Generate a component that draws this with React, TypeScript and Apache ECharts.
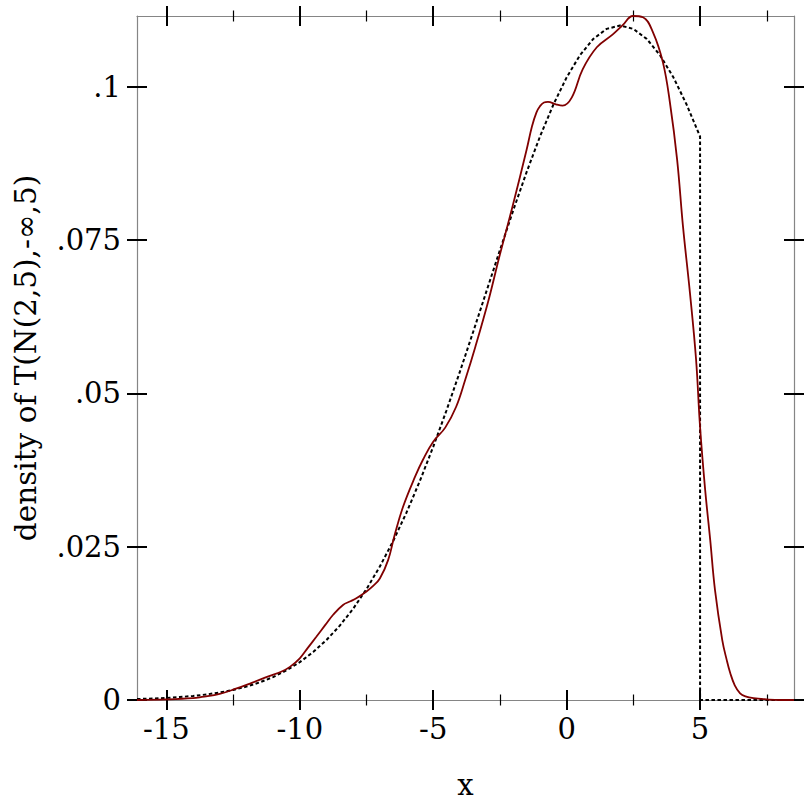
import React, { useEffect, useRef } from "react";
import * as echarts from "echarts";

const xMin = -16.1;
const xMax = 8.52;
const yMin = 0;
const yMax = 0.1115;

const xMajorTicks = [-15, -10, -5, 0, 5];
const xMinorTicks = [-12.5, -7.5, -2.5, 2.5, 7.5];
const yMajorTicks = [0, 0.025, 0.05, 0.075, 0.1];

const xTitle = "x";
const yTitle = "density of T(N(2,5),-∞,5)";

// dashed reference density: x, y
const refX = [-16.1, -15.5, -15, -14.5, -14, -13.5, -13, -12.5, -12, -11.5, -11, -10.5, -10, -9.5, -9, -8.5, -8, -7.5, -7, -6.5, -6, -5.5, -5, -4.5, -4, -3.5, -3, -2.5, -2, -1.5, -1, -0.5, 0, 0.5, 1, 1.5, 2, 2.5, 3, 3.5, 4, 4.5, 5, 5, 8.52];
const refY = [0.00016, 0.00024, 0.00034, 0.00048, 0.00066, 0.0009, 0.00122, 0.00164, 0.00218, 0.00287, 0.00374, 0.00483, 0.00617, 0.00781, 0.00978, 0.01212, 0.01488, 0.01808, 0.02176, 0.02592, 0.03057, 0.0357, 0.04127, 0.04723, 0.05352, 0.06004, 0.06669, 0.07333, 0.07984, 0.08606, 0.09184, 0.09703, 0.1015, 0.10511, 0.10777, 0.1094, 0.10995, 0.1094, 0.10777, 0.10511, 0.1015, 0.09703, 0.09184, 0, 0];

// estimated density (red)
const estX = [-16.1, -15, -14, -13.67, -13, -12.42, -11.8, -11.15, -10.7, -10.37, -10.0, -9.7, -9.38, -9.05, -8.75, -8.38, -8.1, -7.88, -7.5, -7.25, -7.0, -6.69, -6.45, -6.13, -5.68, -5.38, -5.0, -4.55, -4.14, -3.8, -3.42, -2.92, -2.52, -2.03, -1.5, -1.3, -1.13, -1.0, -0.85, -0.7, -0.4, -0.15, 0.19, 0.6, 1.13, 1.73, 2.1, 2.48, 2.86, 3.24, 3.61, 3.87, 4.14, 4.36, 4.62, 4.85, 5.0, 5.19, 5.38, 5.56, 5.83, 6.0, 6.13, 6.3, 6.5, 6.7, 7.0, 7.5, 8.0, 8.52];
const estY = [0, 0.0001, 0.0003, 0.0005, 0.001, 0.0018, 0.0028, 0.0039, 0.0046, 0.0054, 0.0068, 0.0085, 0.0103, 0.0122, 0.0139, 0.0155, 0.0161, 0.0166, 0.0177, 0.0186, 0.0198, 0.0228, 0.0268, 0.0315, 0.0364, 0.0392, 0.0421, 0.0444, 0.0478, 0.0522, 0.0576, 0.0653, 0.0723, 0.0804, 0.0897, 0.0935, 0.0958, 0.0968, 0.0974, 0.0975, 0.0971, 0.0969, 0.0982, 0.1028, 0.1064, 0.1085, 0.11, 0.1115, 0.1113, 0.1088, 0.1039, 0.0974, 0.0881, 0.0772, 0.0664, 0.0555, 0.0445, 0.0343, 0.0261, 0.0179, 0.0098, 0.0065, 0.0044, 0.0024, 0.0011, 0.0006, 0.0003, 0.0001, 0, 0];

const FONT = "DejaVu Serif";
const AXIS_GRAY = "#858585";

function fmtY(v: number): string {
  if (v === 0) return "0";
  const s = String(+v.toFixed(4));
  return s.startsWith("0.") ? s.slice(1) : s;
}

export default function App() {
  const ref = useRef<HTMLDivElement>(null);
  useEffect(() => {
    if (!ref.current) return;
    const chart = echarts.init(ref.current, null, { renderer: "svg" });

    const baseX = (pos: string, ticks: number[], len: number, inside: boolean, width: number, extra: any = {}) => ({
      type: "value",
      position: pos,
      min: xMin,
      max: xMax,
      gridIndex: 0,
      axisLine: { show: false, onZero: false },
      splitLine: { show: false },
      axisTick: { show: true, inside, length: len, customValues: ticks, lineStyle: { color: "#000", width } },
      axisLabel: { show: false },
      ...extra,
    });
    const baseY = (pos: string, ticks: number[], len: number, inside: boolean, width: number, extra: any = {}) => ({
      type: "value",
      position: pos,
      min: yMin,
      max: yMax,
      gridIndex: 0,
      axisLine: { show: false, onZero: false },
      splitLine: { show: false },
      axisTick: { show: true, inside, length: len, customValues: ticks, lineStyle: { color: "#000", width } },
      axisLabel: { show: false },
      ...extra,
    });
    const visibleLine = { show: true, onZero: false, lineStyle: { color: AXIS_GRAY, width: 1.2 } };
    const MAJ = 2;
    const MIN = 1.2;

    const option: any = {
      animation: false,
      backgroundColor: "#fff",
      grid: { left: 137, right: 18, top: 16, bottom: 112, containLabel: false },
      xAxis: [
        baseX("bottom", xMajorTicks, 10, false, MAJ, {
          axisLine: visibleLine,
          axisLabel: {
            show: true,
            customValues: xMajorTicks,
            margin: 14,
            color: "#000",
            fontFamily: FONT,
            fontSize: 29,
            formatter: (v: number) => String(v),
          },
          name: xTitle,
          nameLocation: "middle",
          nameGap: 70,
          nameTextStyle: { color: "#000", fontFamily: FONT, fontSize: 29 },
        }),
        baseX("bottom", xMajorTicks, 10, true, MAJ),
        baseX("bottom", xMinorTicks, 5.5, false, MIN),
        baseX("bottom", xMinorTicks, 5.5, true, MIN),
        baseX("top", xMajorTicks, 10, false, MAJ, { axisLine: visibleLine }),
        baseX("top", xMajorTicks, 10, true, MAJ),
        baseX("top", xMinorTicks, 5.5, false, MIN),
        baseX("top", xMinorTicks, 5.5, true, MIN),
      ],
      yAxis: [
        baseY("left", yMajorTicks, 10, false, MAJ, {
          axisLine: visibleLine,
          axisLabel: {
            show: true,
            customValues: yMajorTicks,
            margin: 16,
            color: "#000",
            fontFamily: FONT,
            fontSize: 29,
            formatter: (v: number) => fmtY(v),
          },
          name: yTitle,
          nameLocation: "middle",
          nameGap: 96,
          nameTextStyle: { color: "#000", fontFamily: FONT, fontSize: 29.5 },
        }),
        baseY("left", yMajorTicks, 10, true, MAJ),
        baseY("right", yMajorTicks, 10, false, MAJ, { axisLine: visibleLine }),
        baseY("right", yMajorTicks, 10, true, MAJ),
      ],
      series: [
        {
          type: "line",
          xAxisIndex: 0,
          yAxisIndex: 0,
          data: refX.map((x, i) => [x, refY[i]]),
          showSymbol: false,
          symbol: "none",
          smooth: false,
          lineStyle: { color: "#000", width: 2, type: [3.5, 2.5] },
          z: 3,
        },
        {
          type: "line",
          xAxisIndex: 0,
          yAxisIndex: 0,
          data: estX.map((x, i) => [x, estY[i]]),
          showSymbol: false,
          symbol: "none",
          smooth: 0.4,
          lineStyle: { color: "#800000", width: 1.8 },
          z: 4,
        },
      ],
    };
    chart.setOption(option);
    return () => chart.dispose();
  }, []);
  return <div ref={ref} style={{ width: 812, height: 812, position: "absolute", left: 0, top: 0 }} />;
}
